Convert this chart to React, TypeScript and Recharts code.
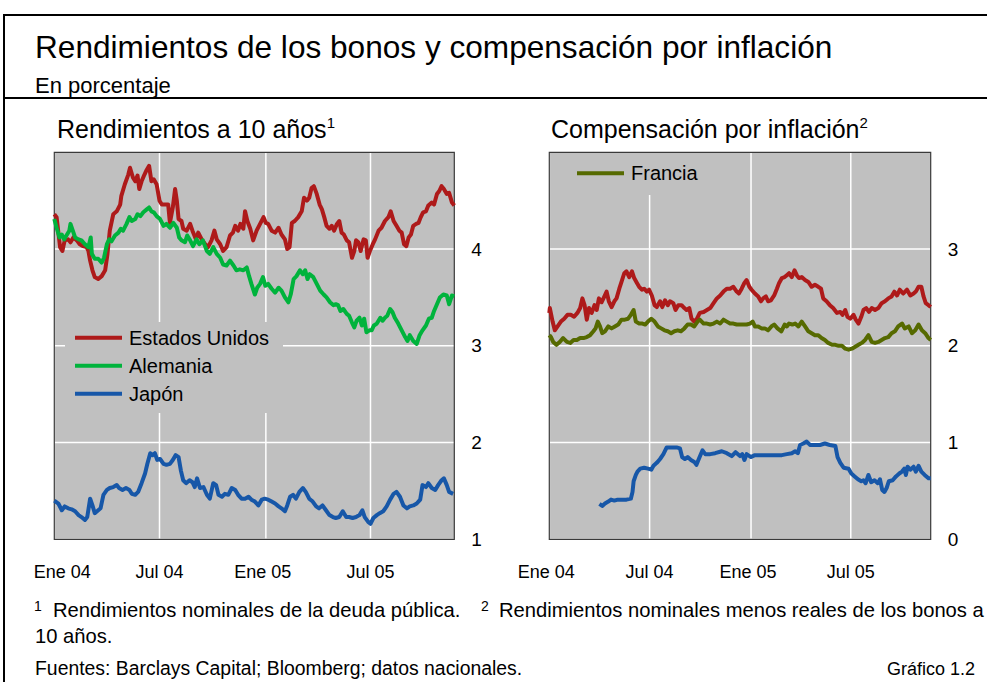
import React from 'react';
import { LineChart, Line, XAxis, YAxis, CartesianGrid, ReferenceArea } from 'recharts';

const FONT = '"Liberation Sans", Arial, Helvetica, sans-serif';

// x values: days since 1 Jan 2004
const DAY_TICKS = [0, 182, 366, 547];
const TICK_LABELS = ['Ene 04', 'Jul 04', 'Ene 05', 'Jul 05'];
const END_DAY = 692;

const LEFT_Y_TICKS = [1, 2, 3, 4];
const RIGHT_Y_TICKS = [0, 1, 2, 3];

// Left panel: 10-year yields
const usYield: [number, number][] = [
  [0, 4.36], [4, 4.33], [10, 4.02], [14, 3.98], [18, 4.09], [24, 4.1], [28, 4.07], [33, 4.12], [39, 4.09], [44, 4.05],
  [50, 4.03], [56, 4.02], [59, 3.98], [62, 3.88], [66, 3.78], [70, 3.71], [76, 3.69], [82, 3.72], [88, 3.78], [92, 3.95],
  [96, 4.19], [102, 4.36], [108, 4.39], [114, 4.46], [116, 4.55], [122, 4.67], [128, 4.77], [131, 4.84], [136, 4.74], [140, 4.7],
  [144, 4.76], [147, 4.62], [151, 4.7], [156, 4.77], [160, 4.82], [164, 4.86], [168, 4.7], [172, 4.72], [177, 4.67], [182, 4.5],
  [186, 4.46], [191, 4.46], [197, 4.46], [200, 4.27], [205, 4.43], [209, 4.62], [212, 4.5], [215, 4.31], [220, 4.29], [223, 4.21],
  [229, 4.19], [235, 4.26], [239, 4.19], [245, 4.1], [249, 4.17], [255, 4.1], [261, 4.05], [266, 4.02], [272, 4.09], [277, 4.19],
  [281, 4.1], [287, 4.05], [292, 3.98], [298, 4.02], [304, 4.14], [309, 4.17], [313, 4.24], [318, 4.19], [322, 4.26], [327, 4.21],
  [330, 4.39], [334, 4.29], [339, 4.21], [344, 4.09], [350, 4.19], [356, 4.26], [362, 4.33], [366, 4.27], [370, 4.26], [376, 4.19],
  [382, 4.17], [388, 4.22], [393, 4.15], [399, 4.1], [403, 4.0], [407, 4.02], [411, 4.27], [416, 4.29], [422, 4.33], [428, 4.39],
  [432, 4.53], [437, 4.5], [441, 4.53], [445, 4.63], [449, 4.65], [454, 4.57], [459, 4.46], [463, 4.41], [467, 4.33], [471, 4.24],
  [476, 4.21], [480, 4.24], [484, 4.19], [489, 4.26], [493, 4.29], [497, 4.17], [501, 4.15], [506, 4.09], [510, 4.07], [515, 3.91],
  [519, 3.98], [522, 4.09], [526, 4.07], [530, 3.98], [535, 4.1], [539, 4.09], [542, 3.91], [546, 3.98], [551, 4.05], [555, 4.1],
  [561, 4.19], [566, 4.22], [572, 4.29], [578, 4.33], [582, 4.39], [587, 4.29], [592, 4.24], [597, 4.19], [601, 4.17], [605, 4.05],
  [609, 4.03], [613, 4.12], [617, 4.15], [621, 4.24], [626, 4.26], [630, 4.27], [634, 4.33], [638, 4.38], [643, 4.39], [647, 4.45],
  [653, 4.48], [657, 4.46], [662, 4.57], [666, 4.6], [670, 4.65], [674, 4.62], [679, 4.57], [683, 4.58], [688, 4.48], [692, 4.45],
];

const deYield: [number, number][] = [
  [0, 4.31], [4, 4.22], [9, 4.12], [13, 4.15], [17, 4.1], [21, 4.14], [26, 4.19], [28, 4.26], [32, 4.19], [36, 4.12],
  [42, 4.1], [47, 4.09], [53, 4.05], [59, 4.02], [63, 4.12], [65, 3.95], [70, 3.9], [76, 3.9], [82, 3.86], [86, 3.91],
  [91, 4.05], [95, 4.1], [99, 4.08], [105, 4.14], [111, 4.17], [115, 4.21], [119, 4.19], [125, 4.26], [130, 4.33], [134, 4.29],
  [140, 4.31], [144, 4.36], [149, 4.34], [154, 4.38], [160, 4.41], [164, 4.43], [168, 4.39], [172, 4.38], [177, 4.34], [183, 4.31],
  [189, 4.24], [194, 4.26], [200, 4.22], [206, 4.27], [212, 4.22], [216, 4.12], [220, 4.09], [226, 4.07], [230, 4.14], [235, 4.09],
  [240, 4.03], [246, 4.1], [251, 4.05], [257, 4.09], [264, 3.98], [269, 3.95], [275, 4.02], [281, 3.95], [287, 3.91], [292, 3.84],
  [298, 3.83], [304, 3.88], [310, 3.83], [315, 3.78], [321, 3.79], [327, 3.78], [333, 3.81], [337, 3.72], [341, 3.64], [347, 3.53],
  [351, 3.6], [356, 3.64], [361, 3.71], [365, 3.62], [370, 3.64], [376, 3.59], [382, 3.55], [388, 3.6], [393, 3.57], [399, 3.5],
  [405, 3.45], [409, 3.53], [414, 3.69], [419, 3.72], [425, 3.78], [430, 3.74], [434, 3.78], [438, 3.69], [442, 3.74], [448, 3.71],
  [454, 3.64], [460, 3.57], [466, 3.53], [471, 3.5], [477, 3.45], [483, 3.42], [487, 3.43], [491, 3.42], [495, 3.36], [500, 3.38],
  [506, 3.33], [510, 3.31], [515, 3.24], [519, 3.19], [523, 3.26], [528, 3.29], [532, 3.21], [536, 3.28], [540, 3.14], [545, 3.16],
  [549, 3.16], [553, 3.21], [558, 3.23], [564, 3.29], [568, 3.26], [572, 3.29], [576, 3.31], [581, 3.38], [585, 3.35], [589, 3.29],
  [595, 3.23], [601, 3.16], [607, 3.09], [611, 3.05], [615, 3.11], [621, 3.05], [627, 3.02], [632, 3.11], [637, 3.16], [643, 3.21],
  [648, 3.28], [653, 3.29], [657, 3.36], [662, 3.43], [667, 3.5], [673, 3.53], [679, 3.52], [683, 3.43], [688, 3.52], [692, 3.51],
];

const jpYield: [number, number][] = [
  [0, 1.4], [7, 1.37], [13, 1.3], [18, 1.34], [24, 1.32], [30, 1.31], [36, 1.29], [42, 1.25], [47, 1.23], [53, 1.2],
  [57, 1.23], [62, 1.42], [66, 1.35], [70, 1.27], [76, 1.3], [80, 1.32], [85, 1.46], [91, 1.51], [96, 1.53], [102, 1.54],
  [108, 1.56], [112, 1.53], [118, 1.51], [124, 1.53], [130, 1.51], [134, 1.47], [140, 1.46], [145, 1.49], [151, 1.58], [157, 1.68],
  [161, 1.78], [166, 1.89], [170, 1.87], [174, 1.89], [178, 1.82], [183, 1.83], [189, 1.78], [194, 1.77], [200, 1.78], [205, 1.82],
  [210, 1.87], [215, 1.85], [219, 1.71], [223, 1.61], [228, 1.58], [234, 1.61], [239, 1.59], [243, 1.54], [247, 1.63], [252, 1.53],
  [258, 1.54], [264, 1.46], [269, 1.42], [275, 1.58], [280, 1.56], [284, 1.46], [290, 1.44], [295, 1.47], [301, 1.46], [307, 1.53],
  [313, 1.51], [318, 1.46], [324, 1.42], [330, 1.42], [336, 1.44], [341, 1.41], [347, 1.39], [353, 1.35], [359, 1.41], [364, 1.42],
  [370, 1.41], [376, 1.39], [382, 1.37], [388, 1.34], [393, 1.32], [399, 1.29], [403, 1.35], [408, 1.44], [413, 1.46], [418, 1.42],
  [424, 1.49], [430, 1.53], [435, 1.49], [441, 1.42], [447, 1.39], [453, 1.34], [458, 1.32], [464, 1.35], [470, 1.3], [476, 1.25],
  [482, 1.23], [487, 1.22], [493, 1.23], [499, 1.29], [505, 1.23], [510, 1.23], [516, 1.22], [522, 1.23], [528, 1.25], [533, 1.3],
  [537, 1.23], [543, 1.18], [547, 1.16], [552, 1.22], [558, 1.25], [563, 1.27], [569, 1.29], [575, 1.34], [581, 1.41], [587, 1.47],
  [592, 1.49], [598, 1.44], [604, 1.35], [610, 1.32], [615, 1.34], [621, 1.35], [627, 1.37], [633, 1.41], [637, 1.56], [643, 1.54],
  [647, 1.58], [653, 1.53], [659, 1.51], [664, 1.56], [670, 1.61], [674, 1.63], [679, 1.56], [683, 1.49], [690, 1.47],
];

// Right panel: inflation compensation
const usInfl: [number, number][] = [
  [0, 2.34], [1, 2.39], [6, 2.25], [10, 2.16], [15, 2.2], [21, 2.25], [27, 2.28], [33, 2.32], [39, 2.32], [45, 2.3],
  [51, 2.34], [56, 2.39], [60, 2.49], [64, 2.42], [68, 2.27], [72, 2.39], [77, 2.34], [82, 2.42], [86, 2.37], [90, 2.49],
  [95, 2.45], [100, 2.51], [104, 2.56], [108, 2.46], [113, 2.4], [118, 2.46], [122, 2.49], [127, 2.59], [131, 2.66], [136, 2.75],
  [140, 2.77], [145, 2.71], [150, 2.77], [154, 2.7], [159, 2.65], [163, 2.61], [168, 2.58], [172, 2.59], [177, 2.56], [181, 2.58],
  [186, 2.52], [191, 2.42], [195, 2.4], [201, 2.46], [205, 2.4], [210, 2.47], [215, 2.42], [219, 2.46], [225, 2.44], [229, 2.37],
  [234, 2.42], [240, 2.42], [245, 2.39], [249, 2.37], [254, 2.39], [258, 2.28], [263, 2.25], [268, 2.28], [273, 2.34], [280, 2.35],
  [286, 2.37], [292, 2.39], [298, 2.44], [304, 2.49], [310, 2.52], [316, 2.56], [322, 2.59], [328, 2.59], [334, 2.61], [340, 2.56],
  [344, 2.54], [349, 2.59], [354, 2.65], [358, 2.68], [363, 2.61], [367, 2.58], [373, 2.54], [379, 2.51], [384, 2.46], [388, 2.49],
  [393, 2.51], [397, 2.46], [402, 2.47], [408, 2.52], [413, 2.59], [417, 2.65], [422, 2.7], [427, 2.71], [431, 2.73], [435, 2.75],
  [440, 2.71], [445, 2.78], [449, 2.73], [453, 2.7], [458, 2.71], [464, 2.68], [470, 2.66], [476, 2.61], [482, 2.63], [488, 2.61],
  [493, 2.59], [497, 2.49], [503, 2.46], [509, 2.42], [515, 2.39], [522, 2.34], [528, 2.35], [532, 2.32], [537, 2.37], [541, 2.3],
  [546, 2.28], [552, 2.32], [556, 2.27], [561, 2.23], [566, 2.3], [570, 2.37], [575, 2.39], [580, 2.35], [585, 2.39], [591, 2.37],
  [597, 2.39], [603, 2.44], [609, 2.46], [615, 2.49], [621, 2.51], [626, 2.56], [631, 2.52], [636, 2.58], [642, 2.54], [649, 2.58],
  [655, 2.52], [661, 2.54], [665, 2.56], [670, 2.61], [675, 2.61], [679, 2.51], [683, 2.44], [688, 2.42], [692, 2.4],
];

const frInfl: [number, number][] = [
  [0, 2.11], [3, 2.09], [7, 2.04], [13, 2.01], [19, 2.04], [25, 2.08], [32, 2.04], [38, 2.03], [44, 2.06], [50, 2.06],
  [56, 2.08], [62, 2.08], [68, 2.09], [74, 2.11], [80, 2.15], [84, 2.18], [88, 2.25], [92, 2.2], [96, 2.13], [101, 2.15],
  [107, 2.2], [113, 2.18], [119, 2.2], [125, 2.22], [131, 2.27], [137, 2.27], [143, 2.28], [148, 2.32], [153, 2.37], [157, 2.25],
  [163, 2.23], [169, 2.23], [174, 2.22], [179, 2.25], [185, 2.28], [191, 2.25], [197, 2.2], [203, 2.18], [209, 2.16], [215, 2.15],
  [221, 2.13], [227, 2.15], [233, 2.16], [239, 2.15], [245, 2.18], [251, 2.22], [257, 2.22], [263, 2.2], [269, 2.25], [273, 2.27],
  [280, 2.23], [286, 2.23], [292, 2.22], [298, 2.23], [304, 2.25], [310, 2.23], [316, 2.27], [322, 2.25], [328, 2.23], [334, 2.23],
  [340, 2.22], [346, 2.22], [352, 2.22], [358, 2.22], [364, 2.23], [369, 2.25], [373, 2.2], [379, 2.2], [385, 2.18], [391, 2.18],
  [397, 2.16], [403, 2.2], [408, 2.22], [414, 2.18], [421, 2.15], [427, 2.22], [431, 2.2], [435, 2.23], [441, 2.22], [446, 2.23],
  [452, 2.2], [458, 2.25], [464, 2.2], [470, 2.15], [476, 2.13], [482, 2.11], [488, 2.11], [494, 2.08], [500, 2.06], [506, 2.03],
  [513, 2.01], [519, 2.01], [525, 2.0], [531, 2.0], [537, 1.97], [543, 1.96], [549, 1.97], [555, 1.99], [561, 2.01], [567, 2.03],
  [573, 2.06], [579, 2.11], [585, 2.04], [591, 2.03], [597, 2.04], [603, 2.06], [609, 2.08], [615, 2.09], [621, 2.13], [627, 2.15],
  [633, 2.2], [640, 2.23], [645, 2.18], [652, 2.2], [658, 2.13], [664, 2.16], [670, 2.22], [676, 2.16], [682, 2.13], [688, 2.08],
  [692, 2.06],
];

const jpInfl: [number, number][] = [
  [91, 0.365], [96, 0.345], [101, 0.37], [107, 0.39], [112, 0.41], [118, 0.4], [124, 0.41], [131, 0.41], [140, 0.41], [148, 0.42],
  [151, 0.49], [153, 0.6], [157, 0.665], [160, 0.7], [165, 0.73], [172, 0.74], [179, 0.73], [185, 0.72], [189, 0.76], [195, 0.79],
  [201, 0.83], [207, 0.88], [213, 0.95], [222, 0.95], [231, 0.95], [237, 0.94], [241, 0.85], [246, 0.83], [251, 0.85], [257, 0.82],
  [263, 0.8], [267, 0.77], [272, 0.84], [278, 0.92], [283, 0.88], [292, 0.88], [301, 0.89], [313, 0.91], [322, 0.89], [331, 0.86],
  [338, 0.9], [346, 0.86], [350, 0.88], [354, 0.82], [358, 0.88], [366, 0.85], [373, 0.87], [385, 0.87], [397, 0.87], [410, 0.87],
  [422, 0.87], [431, 0.88], [440, 0.89], [446, 0.91], [451, 0.89], [455, 0.975], [461, 0.99], [467, 1.01], [473, 0.975], [482, 0.975],
  [491, 0.975], [500, 0.99], [509, 0.975], [519, 0.965], [523, 0.85], [528, 0.79], [534, 0.74], [543, 0.73], [548, 0.68], [554, 0.65],
  [560, 0.62], [566, 0.6], [570, 0.61], [574, 0.58], [579, 0.665], [584, 0.59], [590, 0.61], [596, 0.58], [600, 0.62], [604, 0.51],
  [608, 0.49], [612, 0.53], [616, 0.6], [623, 0.61], [629, 0.65], [635, 0.68], [640, 0.7], [644, 0.73], [647, 0.665], [650, 0.75],
  [655, 0.72], [661, 0.75], [665, 0.7], [670, 0.76], [675, 0.7], [681, 0.665], [688, 0.63], [692, 0.63],
];

const COLORS = { us: '#ae1a1a', de: '#00b33c', jp: '#1757a8', fr: '#566a00' };

type Series = { key: string; name: string; color: string; pts: [number, number][] };

const leftSeries: Series[] = [
  { key: 'us', name: 'Estados Unidos', color: COLORS.us, pts: usYield },
  { key: 'de', name: 'Alemania', color: COLORS.de, pts: deYield },
  { key: 'jp', name: 'Japón', color: COLORS.jp, pts: jpYield },
];
const rightSeries: Series[] = [
  { key: 'us', name: 'Estados Unidos', color: COLORS.us, pts: usInfl },
  { key: 'fr', name: 'Francia', color: COLORS.fr, pts: frInfl },
  { key: 'jp', name: 'Japón', color: COLORS.jp, pts: jpInfl },
];

function buildTable(series: Series[]) {
  const map = new Map<number, Record<string, number>>();
  for (const s of series) {
    for (const [d, v] of s.pts) {
      const row = map.get(d) ?? { day: d };
      row[s.key] = v;
      map.set(d, row);
    }
  }
  return Array.from(map.values()).sort((a, b) => a.day - b.day);
}

const makeXTick = (firstDx: number) => (props: any) => {
  const { x, y, payload } = props;
  const idx = DAY_TICKS.indexOf(payload.value);
  const dx = idx === 0 ? firstDx : idx === 2 ? -3 : 0;
  return (
    <text x={x + dx} y={y + 33} textAnchor="middle" dominantBaseline="central" fontSize={18} fontFamily={FONT} fill="#000">
      {TICK_LABELS[idx]}
    </text>
  );
};

const YTick = (props: any) => {
  const { x, y, payload } = props;
  return (
    <text x={x + 17} y={y} textAnchor="start" dominantBaseline="central" fontSize={19} fontFamily={FONT} fill="#000">
      {payload.value}
    </text>
  );
};

type PanelProps = {
  series: Series[];
  yDomain: [number, number];
  yTicks: number[];
  width: number;
  height: number;
  margin: { top: number; right: number; bottom: number; left: number };
  firstDx: number;
};

function Panel({ series, yDomain, yTicks, width, height, margin, firstDx }: PanelProps) {
  const data = buildTable(series);
  return (
    <LineChart width={width} height={height} data={data} margin={margin}>
      <CartesianGrid fill="#c0c0c0" stroke="#ffffff" strokeWidth={1.5} horizontalValues={yTicks} verticalValues={DAY_TICKS} />
      <XAxis
        dataKey="day"
        type="number"
        domain={[0, END_DAY]}
        ticks={DAY_TICKS}
        interval={0}
        axisLine={false}
        tickLine={false}
        tickSize={0}
        tickMargin={0}
        height={30}
        tick={makeXTick(firstDx)}
      />
      <YAxis
        orientation="right"
        type="number"
        domain={yDomain}
        ticks={yTicks}
        interval={0}
        axisLine={false}
        tickLine={false}
        tickSize={0}
        tickMargin={0}
        width={40}
        tick={YTick}
      />
      <ReferenceArea x1={0} x2={END_DAY} y1={yDomain[0]} y2={yDomain[1]} fill="none" stroke="#3a3a3a" strokeWidth={1.2} />
      {series.map((s) => (
        <Line
          key={s.key}
          dataKey={s.key}
          name={s.name}
          stroke={s.color}
          strokeWidth={4}
          strokeLinejoin="round"
          dot={false}
          activeDot={false}
          connectNulls
          type="linear"
          isAnimationActive={false}
        />
      ))}
    </LineChart>
  );
}

function LegendBox({ items, left, top, width, height, firstY }: { items: Series[]; left: number; top: number; width: number; height: number; firstY: number }) {
  return (
    <svg style={{ position: 'absolute', left, top }} width={width} height={height}>
      <rect x={0} y={0} width={width} height={height} fill="#c0c0c0" />
      {items.map((s, i) => (
        <g key={s.key}>
          <line x1={10} x2={57} y1={firstY + i * 28} y2={firstY + i * 28} stroke={s.color} strokeWidth={4} />
          <text x={64} y={firstY + i * 28 + 7} fontSize={20} fontFamily={FONT} fill="#000">
            {s.name}
          </text>
        </g>
      ))}
    </svg>
  );
}

export default function App() {
  return (
    <div style={{ position: 'absolute', left: 0, top: 0, width: 987, height: 682, background: '#fff', fontFamily: FONT }}>
      <svg style={{ position: 'absolute', left: 0, top: 0 }} width={987} height={682}>
        <line x1={4} y1={15} x2={987} y2={15} stroke="#000" strokeWidth={2} />
        <line x1={4} y1={98} x2={987} y2={98} stroke="#000" strokeWidth={2} />
        <line x1={4} y1={14} x2={4} y2={682} stroke="#000" strokeWidth={2} />
        <text x={35} y={58} fontSize={31.6} fontFamily={FONT} fill="#000">
          Rendimientos de los bonos y compensación por inflación
        </text>
        <text x={35} y={93} fontSize={22} fontFamily={FONT} fill="#000">
          En porcentaje
        </text>
        <text x={57} y={138} fontSize={25} fontFamily={FONT} fill="#000">
          Rendimientos a 10 años
          <tspan dy={-10} fontSize={15}>1</tspan>
        </text>
        <text x={551} y={138} fontSize={25} fontFamily={FONT} fill="#000">
          Compensación por inflación
          <tspan dy={-10} fontSize={15}>2</tspan>
        </text>
        <text x={34} y={611} fontSize={14} fontFamily={FONT} fill="#000">1</text>
        <text x={53} y={617} fontSize={20.2} fontFamily={FONT} fill="#000">
          Rendimientos nominales de la deuda pública.
        </text>
        <text x={481} y={611} fontSize={14} fontFamily={FONT} fill="#000">2</text>
        <text x={499} y={617} fontSize={20.2} fontFamily={FONT} fill="#000">
          Rendimientos nominales menos reales de los bonos a
        </text>
        <text x={35} y={643} fontSize={20.2} fontFamily={FONT} fill="#000">
          10 años.
        </text>
        <text x={35} y={675} fontSize={19.4} fontFamily={FONT} fill="#000">
          Fuentes: Barclays Capital; Bloomberg; datos nacionales.
        </text>
        <text x={975} y={675} fontSize={18} textAnchor="end" fontFamily={FONT} fill="#000">
          Gráfico 1.2
        </text>
      </svg>

      <div style={{ position: 'absolute', left: 0, top: 140 }}>
        <Panel
          series={leftSeries}
          yDomain={[1, 5]}
          yTicks={LEFT_Y_TICKS}
          width={500}
          height={460}
          margin={{ top: 12.3, right: 5.7, bottom: 30.7, left: 54.3 }}
          firstDx={8}
        />
      </div>
      <div style={{ position: 'absolute', left: 500, top: 140 }}>
        <Panel
          series={rightSeries}
          yDomain={[0, 4]}
          yTicks={RIGHT_Y_TICKS}
          width={487}
          height={460}
          margin={{ top: 12.3, right: 16.3, bottom: 30.7, left: 49.3 }}
          firstDx={-3}
        />
      </div>

      <LegendBox items={leftSeries} left={65} top={322} width={218} height={91} firstY={15.7} />
      <LegendBox items={rightSeries.filter((s) => s.key === 'fr')} left={567} top={153} width={145} height={42} firstY={20.3} />
    </div>
  );
}
